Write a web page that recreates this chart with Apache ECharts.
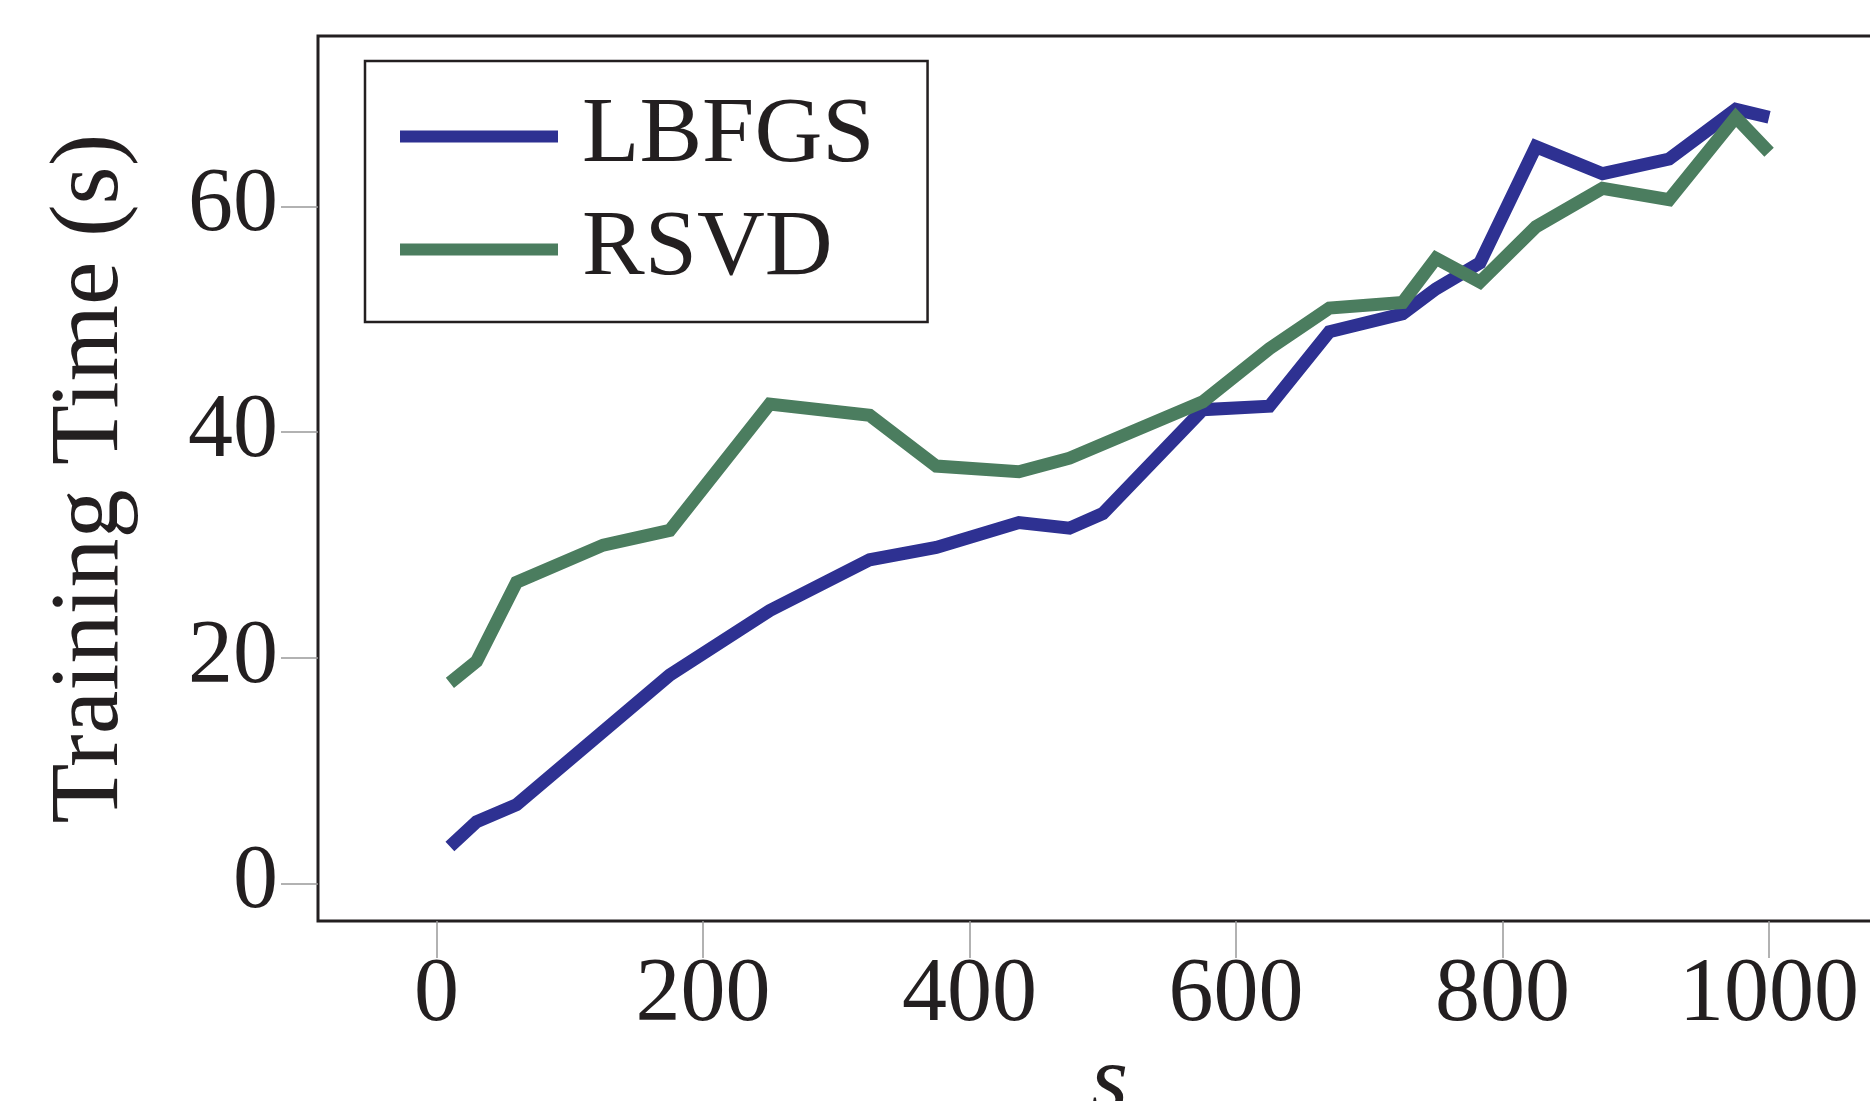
<!DOCTYPE html>
<html>
<head>
<meta charset="utf-8">
<script src="https://cdn.jsdelivr.net/npm/echarts@6/dist/echarts.min.js"></script>
<style>
html, body { margin: 0; padding: 0; background: #fff; }
#chart-container { width: 1870px; height: 1101px; }
</style>
</head>
<body>
<div id="chart-container"></div>
<script>
// 數據
var lbfgsS = [10, 30, 60, 175, 250, 325, 375, 437, 475, 500, 575, 625, 670, 725, 750, 783, 825, 875, 925, 975, 1000];
var lbfgsTime = [3.3, 5.5, 7.0, 18.5, 24.2, 28.7, 29.8, 32.0, 31.5, 32.8, 42.0, 42.3, 48.9, 50.5, 52.7, 55.0, 65.3, 62.9, 64.2, 68.6, 67.9];
var rsvdS = [10, 30, 60, 125, 175, 250, 325, 375, 437, 475, 575, 625, 670, 725, 750, 783, 825, 875, 925, 975, 1000];
var rsvdTime = [17.8, 19.7, 26.7, 30.0, 31.3, 42.5, 41.5, 37.0, 36.5, 37.7, 42.7, 47.4, 51.0, 51.5, 55.4, 53.3, 58.2, 61.6, 60.6, 67.9, 64.8];
var xTicks = [0, 200, 400, 600, 800, 1000];
var yTicks = [0, 20, 40, 60];

function pairs(xs, ys) {
    return xs.map(function(x, i) { return [x, ys[i]]; });
}

var serif = 'Liberation Serif';
var ink = '#231f20';

var chart = echarts.init(document.getElementById('chart-container'));

var option = {
    animation: false,
    grid: {
        show: true,
        left: 318,
        top: 36,
        right: -31,
        bottom: 180,
        outerBoundsMode: 'none',
        containLabel: false,
        borderColor: ink,
        borderWidth: 3,
        backgroundColor: 'transparent'
    },
    legend: { // 圖例
        orient: 'vertical',
        left: 365,
        top: 61,
        padding: [19, 53, 16, 35],
        borderColor: ink,
        borderWidth: 2.5,
        itemGap: 0,
        itemWidth: 158,
        itemHeight: 12,
        icon: 'rect',
        textStyle: {
            fontFamily: serif,
            fontSize: 94,
            color: ink,
            lineHeight: 113,
            padding: [0, 0, 0, 19]
        },
        data: ['LBFGS', 'RSVD']
    },
    xAxis: {
        type: 'value',
        min: -89,
        max: 1099,
        name: 's',
        nameLocation: 'middle',
        nameGap: 116,
        nameMoveOverlap: false,
        nameTextStyle: { fontFamily: serif, fontStyle: 'italic', fontSize: 96, color: ink, lineHeight: 96 },
        axisLine: { show: false, onZero: false },
        splitLine: { show: false },
        axisTick: { show: true, length: 37, customValues: xTicks, lineStyle: { color: '#999', width: 1.5 } },
        axisLabel: {
            customValues: xTicks,
            margin: 29,
            fontFamily: serif,
            fontSize: 90,
            color: ink,
            lineHeight: 92,
            formatter: function(v) { return String(v); }
        }
    },
    yAxis: {
        type: 'value',
        min: -3.3,
        max: 75.1,
        name: 'Training Time (s)',
        nameLocation: 'middle',
        nameGap: 178,
        nameMoveOverlap: false,
        nameTextStyle: { fontFamily: serif, fontSize: 98, color: ink, lineHeight: 98 },
        axisLine: { show: false, onZero: false },
        splitLine: { show: false },
        axisTick: { show: true, length: 37, customValues: yTicks, lineStyle: { color: '#999', width: 1.5 } },
        axisLabel: {
            customValues: yTicks,
            margin: 40,
            fontFamily: serif,
            fontSize: 90,
            color: ink,
            formatter: function(v) { return String(v); }
        }
    },
    series: [{
            name: 'LBFGS',
            type: 'line',
            data: pairs(lbfgsS, lbfgsTime),
            symbol: 'none',
            itemStyle: { color: '#2e3192' },
            lineStyle: { color: '#2e3192', width: 13, cap: 'butt', join: 'miter' }
        },
        {
            name: 'RSVD',
            type: 'line',
            data: pairs(rsvdS, rsvdTime),
            symbol: 'none',
            itemStyle: { color: '#4b7d5f' },
            lineStyle: { color: '#4b7d5f', width: 13, cap: 'butt', join: 'miter' }
        }
    ]
};

chart.setOption(option);
</script>
</body>
</html>
